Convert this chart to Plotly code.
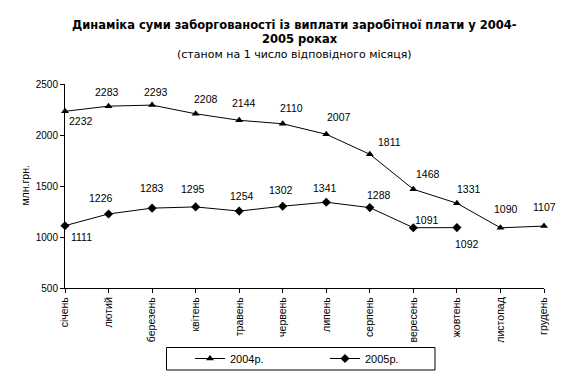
import plotly.graph_objects as go

months = ["січень", "лютий", "березень", "квітень", "травень", "червень",
          "липень", "серпень", "вересень", "жовтень", "листопад", "грудень"]
y2004 = [2232, 2283, 2293, 2208, 2144, 2110, 2007, 1811, 1468, 1331, 1090, 1107]
y2005 = [1111, 1226, 1283, 1295, 1254, 1302, 1341, 1288, 1091, 1092]

# label pixel offsets (x, y) relative to each point
off2004 = [(16, -10), (-2, 14), (4, 13), (10, 15), (5, 17), (9, 16), (13, 17), (20, 12),
           (15, 15), (12, 14), (6, 19), (0, 19)]
off2005 = [(16, -11), (-8, 16), (0, 20), (-3, 18), (3, 15), (-2, 16), (-1, 14), (9, 13),
           (14, 8), (10, -16)]

W, H = 577, 380
L, R, T, B = 57, 41, 76, 100
PW, PH = W - L - R, H - T - B


def px(xp):
    return (xp - L) / PW


def py(yp):
    return (H - B - yp) / PH


fig = go.Figure()
fig.add_trace(go.Scatter(x=months, y=y2004, mode="lines+markers", name="2004р.",
                         line=dict(color="black", width=1),
                         marker=dict(symbol="triangle-up", size=7, color="black"),
                         cliponaxis=False, legend="legend"))
fig.add_trace(go.Scatter(x=months[:len(y2005)], y=y2005, mode="lines+markers", name="2005р.",
                         line=dict(color="black", width=1),
                         marker=dict(symbol="diamond", size=7, color="black"),
                         cliponaxis=False, legend="legend2"))

ann = []
for series, offs in ((y2004, off2004), (y2005, off2005)):
    for i, v in enumerate(series):
        dx, dy = offs[i]
        ann.append(dict(x=months[i], y=v, text=str(v), showarrow=False,
                        xshift=dx, yshift=dy,
                        font=dict(family="Liberation Sans, Arial", size=10.5, color="black")))

tfont = dict(family="DejaVu Sans, Verdana", size=11.5, color="black")
ann.append(dict(xref="paper", yref="paper", x=px(286.3), y=py(17.2), xanchor="center", yanchor="middle",
                text="<b>Динаміка суми заборгованості із виплати заробітної плати у 2004-</b>",
                showarrow=False, font=tfont))
ann.append(dict(xref="paper", yref="paper", x=px(292), y=py(31), xanchor="center", yanchor="middle",
                text="<b>2005 роках</b>", showarrow=False, font=tfont))
ann.append(dict(xref="paper", yref="paper", x=px(286), y=py(46), xanchor="center", yanchor="middle",
                text="(станом на 1 число відповідного місяця)",
                showarrow=False, font=dict(family="DejaVu Sans, Verdana", size=11, color="black")))
ann.append(dict(xref="paper", yref="paper", x=px(16.6), y=py(178), xanchor="center", yanchor="middle",
                text="млн.грн.", textangle=-90, showarrow=False,
                font=dict(family="Liberation Sans, Arial", size=10.5, color="black")))

legfont = dict(family="Liberation Sans, Arial", size=11, color="black")
fig.update_layout(
    width=W, height=H,
    margin=dict(l=L, r=R, t=T, b=B),
    paper_bgcolor="white", plot_bgcolor="white",
    font=dict(family="Liberation Sans, Arial", size=10, color="black"),
    showlegend=True,
    legend=dict(orientation="h", xref="container", yref="container", x=182 / W, xanchor="left",
                y=1 - 350.5 / H, yanchor="middle", borderwidth=0, bgcolor="rgba(0,0,0,0)",
                font=legfont),
    legend2=dict(orientation="h", xref="container", yref="container", x=317 / W, xanchor="left",
                 y=1 - 350.5 / H, yanchor="middle", borderwidth=0, bgcolor="rgba(0,0,0,0)",
                 font=legfont),
    shapes=[dict(type="rect", xref="paper", yref="paper",
                 x0=px(158.5), x1=px(427), y0=py(362), y1=py(339.5),
                 line=dict(color="black", width=1))],
    annotations=ann,
)
fig.update_xaxes(type="category", range=[0, 11], showline=True, linecolor="black", linewidth=1,
                 ticks="outside", ticklen=4, tickcolor="black", tickangle=-90, automargin=False,
                 tickfont=dict(size=10.5), showgrid=False, zeroline=False)
fig.update_yaxes(range=[500, 2500], dtick=500, showline=True, linecolor="black", linewidth=1,
                 ticks="outside", ticklen=4, tickcolor="black", showgrid=False, zeroline=False,
                 tickfont=dict(size=10), automargin=False)

fig.write_html("out.html")
